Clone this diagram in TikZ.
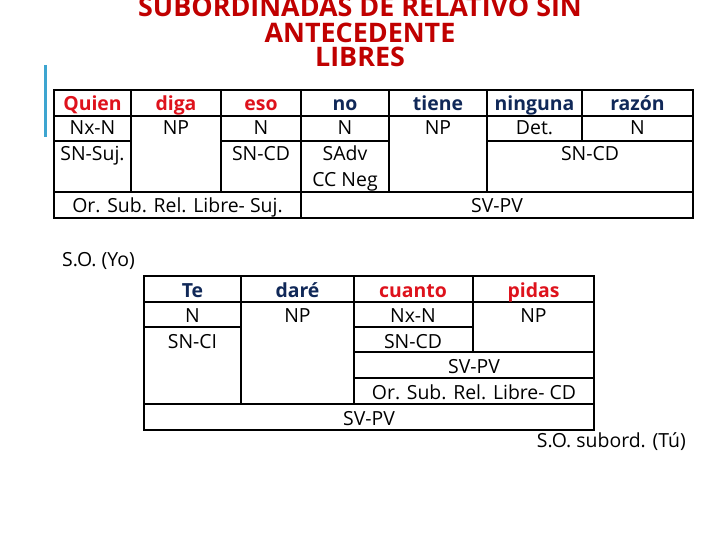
\documentclass[tikz,border=0pt]{standalone}
\usepackage{fontspec}
\setmainfont{Open Sans}
\usetikzlibrary{positioning}
\definecolor{titlered}{RGB}{192,0,0}
\definecolor{wordred}{RGB}{222,18,28}
\definecolor{wordblue}{RGB}{16,40,88}
\definecolor{barblue}{RGB}{62,165,208}

\begin{document}
\begin{tikzpicture}[x=1bp,y=-1bp,
	grid/.style={line width=1.6bp},
	cell/.style={font=\fontsize{19.5}{21}\selectfont,inner sep=0pt,anchor=base},
	word/.style={cell,font=\fontsize{19.5}{21}\selectfont\bfseries},
	title/.style={anchor=base,font=\fontsize{27}{25}\selectfont\bfseries,text=titlered,inner sep=0pt}]
	\useasboundingbox (0,0) rectangle (720,540);

	% title
	\node[title] (titleA) at (360,17) {SUBORDINADAS DE RELATIVO SIN};
	\node[title] (titleB) at (360,43) {ANTECEDENTE};
	\node[title] (titleC) at (360,67) {LIBRES};
	\draw[barblue,line width=3bp] (45,65) -- (45,137);

	% upper sentence
	\draw[grid] (54,90) rectangle (693,218);
	\draw[grid] (54,116) -- (693,116) (54,192) -- (693,192)
		(54,141) -- (131,141) (221,141) -- (389,141) (487,141) -- (693,141);
	\foreach \x/\b in {131/192, 221/192, 301/218, 389/192, 487/192, 582/141}
		\draw[grid] (\x,90) -- (\x,\b);
	\foreach \x/\w/\c/\n in {92.5/Quien/wordred/quien, 176/diga/wordred/diga,
			261/eso/wordred/eso, 345/no/wordblue/no, 438/tiene/wordblue/tiene,
			534.5/ninguna/wordblue/ninguna, 637.5/razón/wordblue/razon}
		\node[word,text=\c] (\n) at (\x,111) {\w};
	\foreach \x/\w/\n in {92.5/Nx-N/quienA, 176/NP/digaA, 261/N/esoA, 345/N/noA,
			438/NP/tieneA, 534.5/Det./ningunaA, 637.5/N/razonA}
		\node[cell] (\n) at (\x,135) {\w};
	\foreach \x/\w/\n in {92.5/SN-Suj./quienB, 261/SN-CD/esoB, 345/SAdv/noB, 590/SN-CD/razonB}
		\node[cell] (\n) at (\x,161) {\w};
	\node[cell] (noC) at (345,187) {CC Neg};
	\node[cell] (subA) at (177.5,213) {Or. Sub. Rel. Libre- Suj.};
	\node[cell] (predA) at (497,213) {SV-PV};

	\node[cell,anchor=base west] (yo) at (62,267) {S.O. (Yo)};

	% lower sentence
	\draw[grid] (144,276) rectangle (594,430);
	\draw[grid] (144,302) -- (594,302) (144,404) -- (594,404)
		(144,327) -- (241,327) (354,327) -- (473,327)
		(354,352) -- (594,352) (354,378) -- (594,378);
	\foreach \x/\b in {241/404, 354/404, 473/352}
		\draw[grid] (\x,276) -- (\x,\b);
	\foreach \x/\w/\c/\n in {192.5/Te/wordblue/te, 297.5/daré/wordblue/dare,
			413/cuanto/wordred/cuanto, 533.5/pidas/wordred/pidas}
		\node[word,text=\c] (\n) at (\x,297) {\w};
	\foreach \x/\w/\n in {192.5/N/teA, 297.5/NP/dareA, 413/Nx-N/cuantoA, 533.5/NP/pidasA}
		\node[cell] (\n) at (\x,322) {\w};
	\node[cell] (teB) at (192.5,348) {SN-CI};
	\node[cell] (cuantoB) at (413,348) {SN-CD};
	\node[cell] (predB) at (474,373) {SV-PV};
	\node[cell] (subB) at (474,399) {Or. Sub. Rel. Libre- CD};
	\node[cell] (predC) at (369,425) {SV-PV};

	\node[cell,anchor=base east] (tu) at (686,447) {S.O. subord. (Tú)};
\end{tikzpicture}
\end{document}
